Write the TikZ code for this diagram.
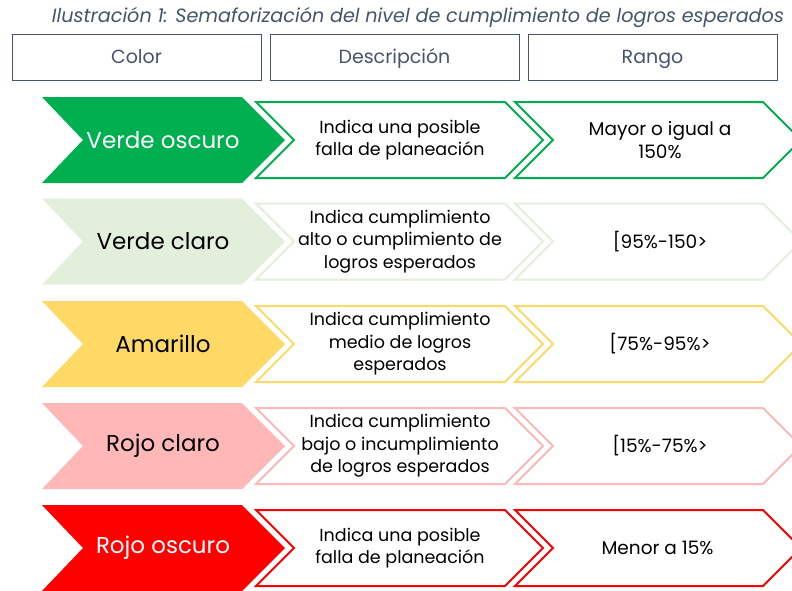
\documentclass[tikz,border=0pt]{standalone}
\usepackage{fontspec}
\setmainfont{Poppins}
\usepackage{tikz}
\usetikzlibrary{positioning,calc}

\definecolor{titleblue}{HTML}{44546A}
\definecolor{darkgreen}{HTML}{00B050}
\definecolor{lightgreen}{HTML}{E2EFDA}
\definecolor{yellowish}{HTML}{FFD966}
\definecolor{lightred}{HTML}{FFB7B7}
\definecolor{darkred}{HTML}{FF0000}

\tikzset{
    headbox/.style={draw=titleblue, line width=0.8pt, minimum width=249pt, minimum height=46pt, inner sep=0pt, text height=13.5pt, text depth=0pt, text=titleblue, font=\fontsize{19}{22}\selectfont},
    colortext/.style={font=\fontsize{23}{27}\selectfont},
    infotext/.style={align=center, font=\fontsize{17.5}{22.5}\selectfont},
    rangetext/.style={align=center, font=\fontsize{18.5}{22.5}\selectfont},
}

\begin{document}
\begin{tikzpicture}[x=1pt, y=-1pt]
        \clip (0,0) rectangle (792,590);

        % Title
        \node[text=titleblue, font=\itshape\fontsize{19.2}{22}\selectfont] (title) at (418,17) {Ilustración 1: Semaforización del nivel de cumplimiento de logros esperados};

        % Draw the header boxes
        \node[headbox] (hColor) at (136.5,57) {Color};
        \node[headbox] (hDesc) at (394.5,57) {Descripción};
        \node[headbox] (hRango) at (652.5,57) {Rango};

        % Draw the rows (colour chevron, description and range)
        \foreach \cy/\fcol/\tcol/\lbl/\desc/\range [count=\i] in {
            140/darkgreen/white/Verde oscuro/{Indica una posible\\falla de planeación}/{Mayor o igual a\\150\%},
            241.5/lightgreen/black/Verde claro/{Indica cumplimiento\\alto o cumplimiento de\\logros esperados}/{[95\%-150>},
            344/yellowish/black/Amarillo/{Indica cumplimiento\\medio de logros\\esperados}/{[75\%-95\%>},
            446/lightred/black/Rojo claro/{Indica cumplimiento\\bajo o incumplimiento\\de logros esperados}/{[15\%-75\%>},
            548/darkred/white/Rojo oscuro/{Indica una posible\\falla de planeación}/{Menor a 15\%}
        } {
            \coordinate (R\i) at (0,\cy);

            % Filled chevron
            \fill[\fcol] ($(R\i) + (42,-43)$) -- ++(200,0) -- ++(43,43) -- ++(-43,43) -- ++(-200,0) -- ++(41,-43) -- cycle;

            % Outlined chevrons
            \draw[\fcol, line width=2pt, line join=miter] ($(R\i) + (256,-38)$) -- ++(249,0) -- ++(38,38) -- ++(-38,38) -- ++(-249,0) -- ++(38,-38) -- cycle;
            \draw[\fcol, line width=2pt, line join=miter] ($(R\i) + (515,-38)$) -- ++(248,0) -- ++(38,38) -- ++(-38,38) -- ++(-248,0) -- ++(38,-38) -- cycle;

            % Texts
            \node[colortext, text=\tcol] (color\i) at ($(R\i) + (163,0)$) {\lbl};
            \node[infotext] (desc\i) at ($(R\i) + (400,0)$) {\desc};
            \node[rangetext] (range\i) at ($(R\i) + (660,0)$) {\range};
        }

\end{tikzpicture}
\end{document}
